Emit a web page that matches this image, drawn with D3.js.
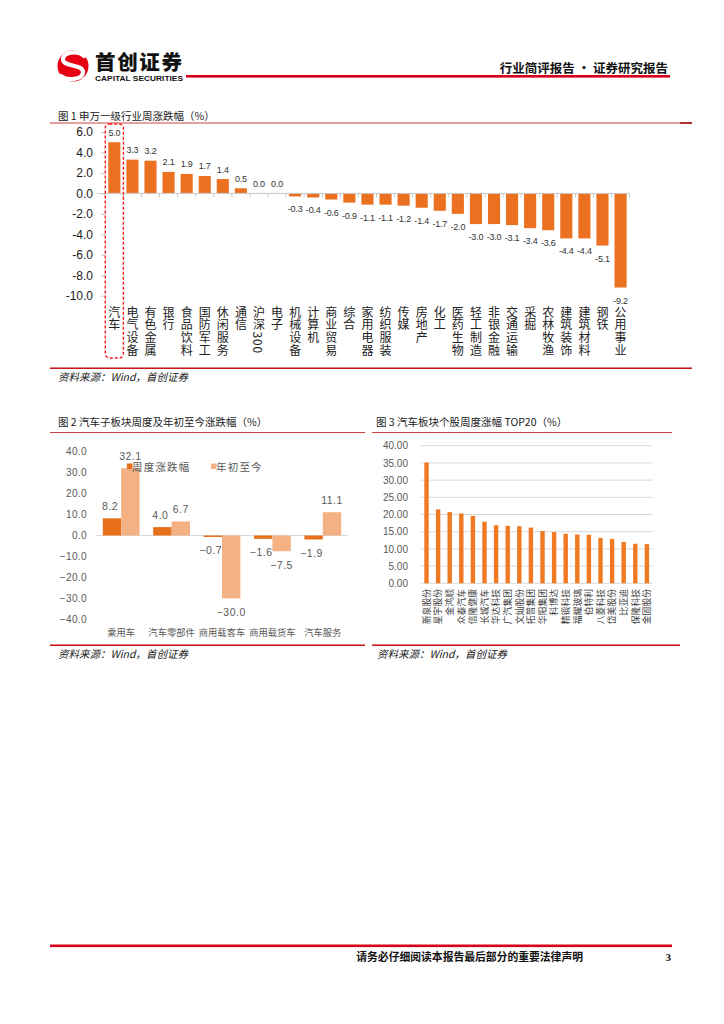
<!DOCTYPE html>
<html><head><meta charset="utf-8">
<script src="https://cdn.jsdelivr.net/npm/d3@7"></script>
<style>body{margin:0;background:#fff} svg{display:block}</style>
</head><body><svg id="c" width="724" height="1024"></svg>
<script>
// ---------- DATA ----------
const industries = ["汽车","电气设备","有色金属","银行","食品饮料","国防军工","休闲服务","通信","沪深300","电子","机械设备","计算机","商业贸易","综合","家用电器","纺织服装","传媒","房地产","化工","医药生物","轻工制造","非银金融","交通运输","采掘","农林牧渔","建筑装饰","建筑材料","钢铁","公用事业"];
const industryChange = [5.0,3.3,3.2,2.1,1.9,1.7,1.4,0.5,0.0,0.0,-0.3,-0.4,-0.6,-0.9,-1.1,-1.1,-1.2,-1.4,-1.7,-2.0,-3.0,-3.0,-3.1,-3.4,-3.6,-4.4,-4.4,-5.1,-9.2];
const fig1Ticks = [6,4,2,0,-2,-4,-6,-8,-10];

const subSectors = ["乘用车","汽车零部件","商用载客车","商用载货车","汽车服务"];
const weeklyChange = [8.2,4.0,-0.7,-1.6,-1.9];
const ytdChange = [32.1,6.7,-30.0,-7.5,11.1];
const fig2Ticks = [40,30,20,10,0,-10,-20,-30,-40];
const fig2Series = ["周度涨跌幅","年初至今"];

const stocks = ["新泉股份","星宇股份","金鸿顺","众泰汽车","信隆健康","长城汽车","华达科技","广汽集团","文灿股份","拓普集团","华阳集团","科博达","精锻科技","福耀玻璃","伯特利","八菱科技","岱美股份","比亚迪","保隆科技","金固股份"];
const stockGain = [35.1,21.5,20.7,20.3,19.6,17.9,16.9,16.7,16.6,16.2,15.2,14.9,14.4,14.2,14.1,13.2,12.9,12.0,11.5,11.4];
const fig3Ticks = [0,5,10,15,20,25,30,35,40];

// ---------- SETUP ----------
const svg = d3.select("#c");
const CJK = "'Noto Sans CJK SC','Noto Sans',sans-serif";
const LAT = "'Liberation Sans',Arial,sans-serif";
const RED = "#D9001B";
const f1 = v => d3.format(".1f")(v).replace("−","-");

// ---------- HEADER ----------
const logo = svg.append("g");
logo.append("circle").attr("cx",73).attr("cy",66).attr("r",15.5).attr("fill","#E60012");
logo.append("path").attr("d","M84,56 C78,50 62,52 63,60 C64,67 83,64 83,72 C83,80 67,81 61,76")
  .attr("fill","none").attr("stroke","#fff").attr("stroke-width",4.2).attr("stroke-linecap","round");
svg.append("text").attr("x",95).attr("y",69.5).attr("font-family",CJK).attr("font-weight",900)
  .attr("font-size",20.5).attr("fill","#111").attr("textLength",87).text("首创证券");
svg.append("text").attr("x",95).attr("y",80.5).attr("font-family",LAT).attr("font-weight","bold")
  .attr("font-size",7.4).attr("fill","#111").attr("textLength",88).attr("lengthAdjust","spacingAndGlyphs").text("CAPITAL SECURITIES");
svg.append("rect").attr("x",186).attr("y",75).attr("width",484).attr("height",2.6).attr("fill",RED);
svg.append("text").attr("x",668).attr("y",73).attr("text-anchor","end").attr("font-family",CJK)
  .attr("font-weight","bold").attr("font-size",12.5).attr("fill","#111").text("行业简评报告 · 证券研究报告");

// ---------- FIGURE 1 ----------
svg.append("text").attr("x",58).attr("y",120).attr("font-family",CJK).attr("font-size",10.5).attr("fill","#222")
  .text("图 1 申万一级行业周涨跌幅（%）");
svg.append("rect").attr("x",50).attr("y",122.5).attr("width",642).attr("height",1).attr("fill","#D04040");
svg.append("rect").attr("x",680).attr("y",122.3).attr("width",12).attr("height",1.4).attr("fill","#A00000");

const x1 = d3.scaleBand().domain(industries).range([105.3, 629.6]).paddingInner(0.33).paddingOuter(0.165);
const y1 = d3.scaleLinear().domain([-10, 6]).range([295.7, 132]);
const g1 = svg.append("g");
const y1Axis = d3.axisLeft(y1).tickValues(fig1Ticks).tickFormat(f1).tickSize(4).tickPadding(8);
const ya = g1.append("g").attr("transform","translate(105,0)").call(y1Axis);
ya.select(".domain").remove();
ya.selectAll("line").attr("stroke","#c8c8c8");
ya.selectAll("text").attr("font-family",LAT).attr("font-size",12).attr("fill","#1a1a1a");
g1.selectAll("rect.b").data(industries).join("rect").attr("class","b")
  .attr("x",d=>x1(d)).attr("width",x1.bandwidth())
  .attr("y",(d,i)=>y1(Math.max(0,industryChange[i])))
  .attr("height",(d,i)=>Math.max(Math.abs(y1(industryChange[i])-y1(0)),0.6))
  .attr("fill",(d,i)=>industryChange[i]===0?"#f2c3a0":"#EB7120");
g1.append("line").attr("x1",97).attr("x2",629.6).attr("y1",y1(0)).attr("y2",y1(0)).attr("stroke","#c8c8c8").attr("stroke-width",1);
const step1 = x1.step();
d3.range(industries.length+1).forEach(i=>{
  const xx = 105.3 + i*step1;
  g1.append("line").attr("x1",xx).attr("x2",xx).attr("y1",y1(0)).attr("y2",y1(0)+4).attr("stroke","#c8c8c8");
});
g1.selectAll("text.v").data(industries).join("text").attr("class","v")
  .attr("x",d=>x1(d)+x1.bandwidth()/2)
  .attr("y",(d,i)=>industryChange[i]>=0 ? y1(industryChange[i])-6.5 : y1(industryChange[i])+16)
  .attr("text-anchor","middle").attr("font-family",LAT).attr("font-size",9).attr("letter-spacing",-0.2).attr("fill","#333")
  .text((d,i)=>f1(industryChange[i]));
g1.selectAll("text.c").data(industries).join("text").attr("class","c")
  .attr("x",d=>x1(d)+x1.bandwidth()/2).attr("y",306)
  .style("writing-mode","vertical-rl").style("text-orientation","mixed")
  .attr("font-family",CJK).attr("font-size",12).attr("letter-spacing",0.8).attr("fill","#222").text(d=>d);
g1.append("rect").attr("x",x1(industries[0])-3).attr("y",124).attr("width",x1.bandwidth()+6).attr("height",234)
  .attr("rx",4).attr("fill","none").attr("stroke","#FF1A1A").attr("stroke-width",1.4).attr("stroke-dasharray","3,2");

svg.append("rect").attr("x",50).attr("y",367.5).attr("width",642).attr("height",1.4).attr("fill","#C00000");
svg.append("text").attr("x",58).attr("y",381).attr("font-family",CJK).attr("font-style","italic")
  .attr("font-size",10.5).attr("fill","#222").text("资料来源：Wind，首创证券");

// ---------- FIGURE 2 ----------
svg.append("text").attr("x",58).attr("y",426).attr("font-family",CJK).attr("font-size",10.5).attr("fill","#222")
  .text("图 2 汽车子板块周度及年初至今涨跌幅（%）");
svg.append("rect").attr("x",50).attr("y",432).attr("width",315).attr("height",1).attr("fill","#D04040");

const x2 = d3.scaleBand().domain(subSectors).range([96, 348]).paddingInner(0.27).paddingOuter(0.135);
const x2s = d3.scaleBand().domain(fig2Series).range([0, x2.bandwidth()]);
const y2 = d3.scaleLinear().domain([-40, 40]).range([619.3, 451.7]);
const g2 = svg.append("g");
const y2Axis = d3.axisLeft(y2).tickValues(fig2Ticks).tickFormat(d3.format(".1f")).tickSize(0).tickPadding(0);
const y2a = g2.append("g").attr("transform","translate(87,0)").call(y2Axis);
y2a.select(".domain").remove();
y2a.selectAll("text").attr("font-family",LAT).attr("font-size",10).attr("letter-spacing",0.4).attr("fill","#595959");
g2.append("line").attr("x1",96).attr("x2",348).attr("y1",y2(0)).attr("y2",y2(0)).attr("stroke","#d9d9d9");
const series2 = [weeklyChange, ytdChange];
const col2 = ["#E8701A","#F4B183"];
series2.forEach((vals,si)=>{
  g2.selectAll(`rect.s${si}`).data(subSectors).join("rect").attr("class",`s${si}`)
    .attr("x",d=>x2(d)+x2s(fig2Series[si])).attr("width",x2s.bandwidth())
    .attr("y",(d,i)=>y2(Math.max(0,vals[i]))).attr("height",(d,i)=>Math.abs(y2(vals[i])-y2(0)))
    .attr("fill",col2[si]);
  g2.selectAll(`text.l${si}`).data(subSectors).join("text").attr("class",`l${si}`)
    .attr("x",(d,i)=>x2(d)+x2s(fig2Series[si])+x2s.bandwidth()/2 + (si===0?-2:0))
    .attr("y",(d,i)=>vals[i]>=0 ? y2(vals[i])-8 : y2(vals[i])+17.5)
    .attr("text-anchor","middle").attr("font-family",LAT).attr("font-size",10.5).attr("letter-spacing",0.5).attr("fill","#595959")
    .text((d,i)=>d3.format(".1f")(vals[i]));
});
g2.selectAll("text.c").data(subSectors).join("text").attr("class","c")
  .attr("x",d=>x2(d)+x2.bandwidth()/2).attr("y",635.5).attr("text-anchor","middle")
  .attr("font-family",CJK).attr("font-size",9.3).attr("fill","#595959").text(d=>d);
const lg = g2.append("g");
[[127,"周度涨跌幅",0],[211,"年初至今",1]].forEach(([lx,t,si])=>{
  lg.append("rect").attr("x",lx).attr("y",463.5).attr("width",5.5).attr("height",5.5).attr("fill",col2[si]);
  lg.append("text").attr("x",lx+5).attr("y",471).attr("font-family",CJK).attr("font-size",10.5)
    .attr("letter-spacing",1.2).attr("fill","#595959").text(t);
});
svg.append("rect").attr("x",50).attr("y",644.5).attr("width",315).attr("height",1.4).attr("fill","#C00000");
svg.append("text").attr("x",58).attr("y",658).attr("font-family",CJK).attr("font-style","italic")
  .attr("font-size",10.5).attr("fill","#222").text("资料来源：Wind，首创证券");

// ---------- FIGURE 3 ----------
svg.append("text").attr("x",376).attr("y",426).attr("font-family",CJK).attr("font-size",10.5).attr("fill","#222")
  .text("图 3 汽车板块个股周度涨幅 TOP20（%）");
svg.append("rect").attr("x",372).attr("y",432).attr("width",300).attr("height",1).attr("fill","#D04040");

const x3 = d3.scaleBand().domain(stocks).range([420.7, 652.7]).paddingInner(0.62).paddingOuter(0.31);
const y3 = d3.scaleLinear().domain([0, 40]).range([583.3, 445.7]);
const g3 = svg.append("g");
g3.selectAll("line.g").data(fig3Ticks).join("line").attr("class","g")
  .attr("x1",420.7).attr("x2",652.7).attr("y1",d=>y3(d)).attr("y2",d=>y3(d)).attr("stroke","#d9d9d9");
const y3Axis = d3.axisLeft(y3).tickValues(fig3Ticks).tickFormat(d3.format(".2f")).tickSize(0).tickPadding(0);
const y3a = g3.append("g").attr("transform","translate(408,0)").call(y3Axis);
y3a.select(".domain").remove();
y3a.selectAll("text").attr("font-family",LAT).attr("font-size",10).attr("fill","#595959");
g3.selectAll("rect.b").data(stocks).join("rect").attr("class","b")
  .attr("x",d=>x3(d)).attr("width",x3.bandwidth())
  .attr("y",(d,i)=>y3(stockGain[i])).attr("height",(d,i)=>y3(0)-y3(stockGain[i]))
  .attr("fill","#EF7A22");
g3.selectAll("text.c").data(stocks).join("text").attr("class","c")
  .attr("transform",d=>`translate(${x3(d)+x3.bandwidth()/2+3.2},589) rotate(-90)`)
  .attr("text-anchor","end").attr("font-family",CJK).attr("font-size",8.8).attr("fill","#404040").text(d=>d);
svg.append("rect").attr("x",372).attr("y",644.5).attr("width",308).attr("height",1.4).attr("fill","#C00000");
svg.append("text").attr("x",377).attr("y",658).attr("font-family",CJK).attr("font-style","italic")
  .attr("font-size",10.5).attr("fill","#222").text("资料来源：Wind，首创证券");

// ---------- FOOTER ----------
svg.append("rect").attr("x",50).attr("y",944.5).attr("width",622).attr("height",2.6).attr("fill",RED);
svg.append("text").attr("x",583).attr("y",961).attr("text-anchor","end").attr("font-family",CJK)
  .attr("font-weight","bold").attr("font-size",10.8).attr("fill","#111").text("请务必仔细阅读本报告最后部分的重要法律声明");
svg.append("text").attr("x",671).attr("y",961).attr("text-anchor","end").attr("font-family","'Liberation Serif',serif")
  .attr("font-weight","bold").attr("font-size",11).attr("fill","#111").text("3");
</script></body></html>
